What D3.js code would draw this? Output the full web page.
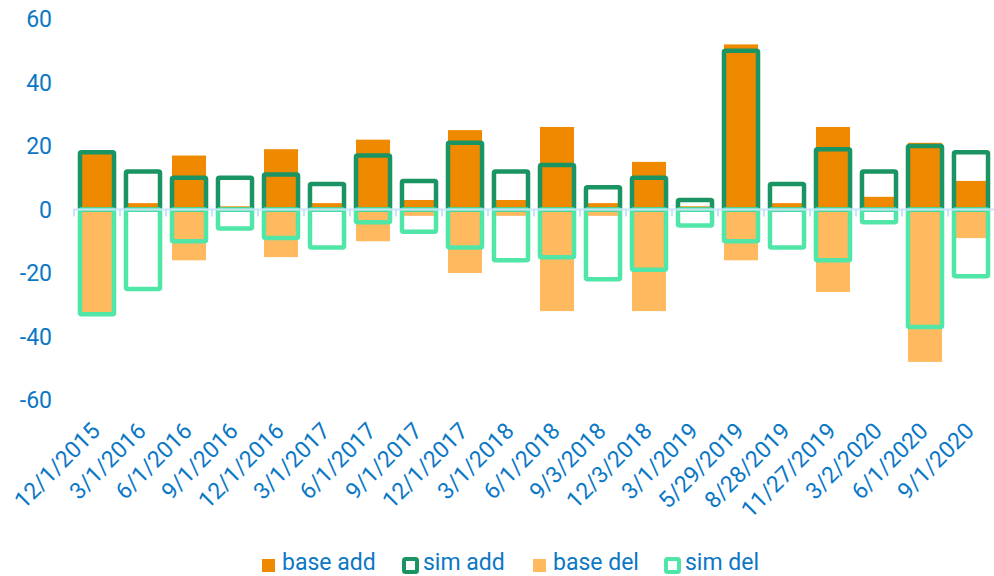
<!DOCTYPE html>
<html>
<head>
<meta charset="utf-8">
<script src="https://cdn.jsdelivr.net/npm/d3@7"></script>
<style>
  body { margin: 0; background: #fff; }
  text { font-family: Roboto, "Noto Sans", sans-serif; }
</style>
</head>
<body>
<div id="chart"></div>
<script>
var svgW = 994;
var svgH = 576;

var dates = ["12/1/2015", "3/1/2016", "6/1/2016", "9/1/2016", "12/1/2016", "3/1/2017",
    "6/1/2017", "9/1/2017", "12/1/2017", "3/1/2018", "6/1/2018", "9/3/2018", "12/3/2018",
    "3/1/2019", "5/29/2019", "8/28/2019", "11/27/2019", "3/2/2020", "6/1/2020", "9/1/2020"];

var baseAdd = [18, 2, 17, 1, 19, 2, 22, 3, 25, 3, 26, 2, 15, 1, 52, 2, 26, 4, 21, 9];
var simAdd = [18, 12, 10, 10, 11, 8, 17, 9, 21, 12, 14, 7, 10, 3, 50, 8, 19, 12, 20, 18];
var baseDel = [-33, 0, -16, 0, -15, 0, -10, -2, -20, -2, -32, -2, -32, 0, -16, 0, -26, 0, -48, -9];
var simDel = [-33, -25, -10, -6, -9, -12, -4, -7, -12, -16, -15, -22, -19, -5, -10, -12, -16, -4, -37, -21];

var yTicks = [60, 40, 20, 0, -20, -40, -60];

var textColor = "#0b78c6";
var colBaseAdd = "#ef8a00";
var colSimAdd = "#1a9463";
var colBaseDel = "#ffb95e";
var colSimDel = "#50e6a8";

var svg = d3.select("#chart")
    .append("svg")
    .attr("width", svgW)
    .attr("height", svgH);

var x = d3.scaleBand()
    .domain(dates)
    .range([74, 994])
    .paddingInner(0.26)
    .paddingOuter(0.13);

var y = d3.scaleLinear()
    .domain([-60, 60])
    .range([400, 19]);

// y tick labels (no axis line)
svg.append("g").selectAll("text")
    .data(yTicks)
    .enter()
    .append("text")
    .attr("x", 52)
    .attr("y", d => y(d))
    .attr("dy", "0.35em")
    .attr("text-anchor", "end")
    .attr("fill", textColor)
    .attr("font-size", 23)
    .text(d => d);

// filled base bars
svg.append("g").selectAll("rect")
    .data(dates)
    .enter()
    .append("rect")
    .attr("x", d => x(d))
    .attr("width", x.bandwidth())
    .attr("y", (d, i) => y(baseAdd[i]))
    .attr("height", (d, i) => y(0) - y(baseAdd[i]))
    .attr("fill", colBaseAdd);

svg.append("g").selectAll("rect")
    .data(dates)
    .enter()
    .append("rect")
    .attr("x", d => x(d))
    .attr("width", x.bandwidth())
    .attr("y", y(0))
    .attr("height", (d, i) => y(baseDel[i]) - y(0))
    .attr("fill", colBaseDel);

// outlined sim bars
svg.append("g").selectAll("rect")
    .data(dates)
    .enter()
    .append("rect")
    .attr("x", d => x(d))
    .attr("width", x.bandwidth())
    .attr("y", (d, i) => y(simAdd[i]))
    .attr("height", (d, i) => y(0) - y(simAdd[i]))
    .attr("rx", 1.5)
    .attr("fill", "none")
    .attr("stroke", colSimAdd)
    .attr("stroke-width", 4.5);

svg.append("g").selectAll("rect")
    .data(dates)
    .enter()
    .append("rect")
    .attr("x", d => x(d))
    .attr("width", x.bandwidth())
    .attr("y", y(0))
    .attr("height", (d, i) => y(simDel[i]) - y(0))
    .attr("rx", 1.5)
    .attr("fill", "none")
    .attr("stroke", colSimDel)
    .attr("stroke-width", 4.5);

// zero line with category separators
var step = x.step();
var x0 = x.range()[0];
var axisG = svg.append("g");
axisG.append("line")
    .attr("x1", x0)
    .attr("x2", x.range()[1])
    .attr("y1", y(0))
    .attr("y2", y(0))
    .attr("stroke", "#c5e3fa")
    .attr("stroke-width", 2);
axisG.selectAll(".tick")
    .data(d3.range(dates.length))
    .enter()
    .append("line")
    .attr("x1", i => x0 + i * step)
    .attr("x2", i => x0 + i * step)
    .attr("y1", y(0))
    .attr("y2", y(0) + 7)
    .attr("stroke", "#c5e3fa")
    .attr("stroke-width", 2);

// rotated x labels
svg.append("g").selectAll("text")
    .data(dates)
    .enter()
    .append("text")
    .attr("transform", d => `translate(${x(d) + x.bandwidth() / 2 - 7}, 421) rotate(-45)`)
    .attr("text-anchor", "end")
    .attr("dy", "0.7em")
    .attr("fill", textColor)
    .attr("font-size", 23)
    .text(d => d);

// legend
var legend = [
    { name: "base add", x: 262, type: "fill", color: colBaseAdd },
    { name: "sim add", x: 402, type: "stroke", color: colSimAdd },
    { name: "base del", x: 533, type: "fill", color: colBaseDel },
    { name: "sim del", x: 664, type: "stroke", color: colSimDel }
];

var lg = svg.append("g").selectAll("g")
    .data(legend)
    .enter()
    .append("g");

lg.filter(d => d.type === "fill")
    .append("rect")
    .attr("x", d => d.x)
    .attr("y", 559)
    .attr("width", 13)
    .attr("height", 13)
    .attr("fill", d => d.color);

lg.filter(d => d.type === "stroke")
    .append("rect")
    .attr("x", d => d.x + 2)
    .attr("y", 559)
    .attr("width", 13)
    .attr("height", 13)
    .attr("rx", 1.5)
    .attr("fill", "none")
    .attr("stroke", d => d.color)
    .attr("stroke-width", 4);

lg.append("text")
    .attr("x", d => d.x + (d.type === "fill" ? 20 : 21))
    .attr("y", 570)
    .attr("fill", textColor)
    .attr("font-size", 23)
    .text(d => d.name);
</script>
</body>
</html>
